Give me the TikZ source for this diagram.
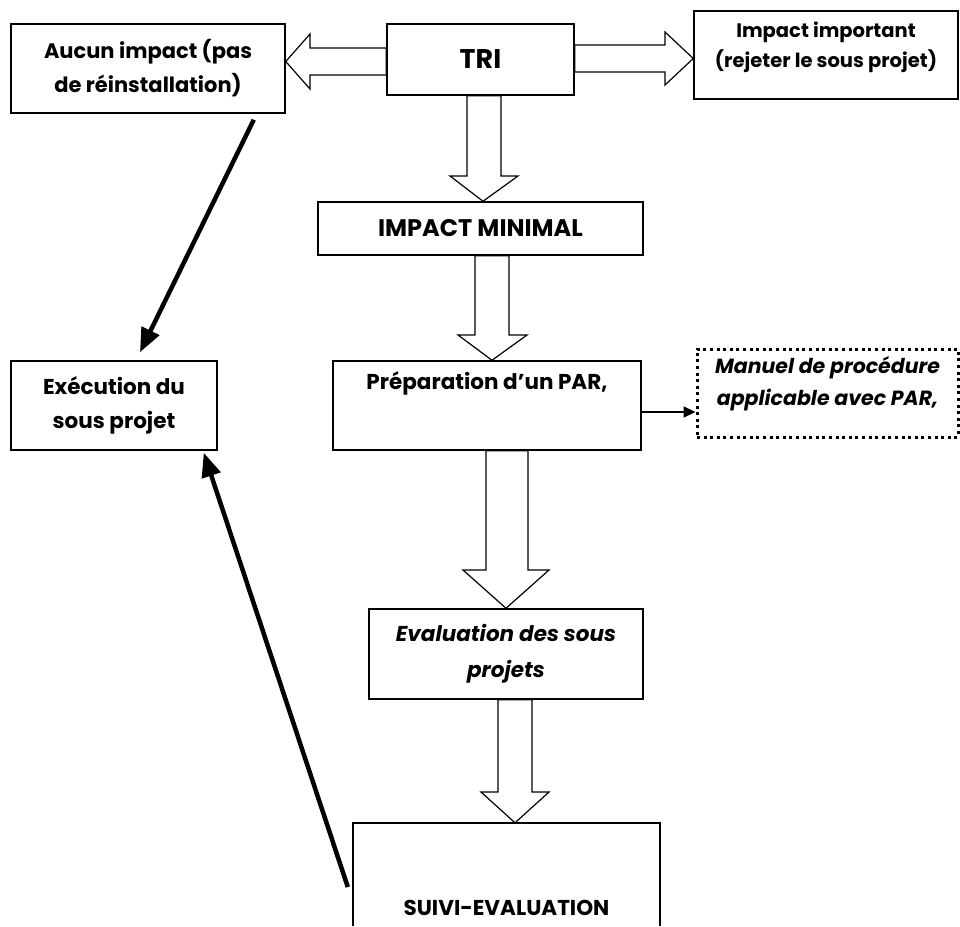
\documentclass[tikz,border=0pt]{standalone}
\usepackage{fontspec}
\setmainfont{Poppins}
\usetikzlibrary{arrows.meta}

\begin{document}
\begin{tikzpicture}
[
x=1pt, y=-1pt,
bnode/.style={draw, line width=1.5pt, inner sep=0, align=center,
  font=\bfseries\fontsize{21.5}{34}\selectfont},
bignode/.style={bnode, font=\bfseries\fontsize{24}{28}\selectfont},
dotnode/.style={draw, line width=3pt, dash pattern=on 3pt off 3.6pt, inner sep=0},
hollow/.style={draw, line width=1.2pt, fill=white, line join=miter},
fatarrow/.style={line width=4.5pt, -{Triangle[length=24pt,width=19pt]}},
thinarrow/.style={line width=2pt, -{Triangle[length=12pt,width=11pt]}}
]
\useasboundingbox (0,0) rectangle (960,926);

\node[bnode, minimum width=274, minimum height=89, font=\bfseries\fontsize{21}{34}\selectfont] (aucun) at (148,68.5) {Aucun impact (pas\\de réinstallation)};
\node[bignode, minimum width=187, minimum height=71, font=\bfseries\fontsize{27}{30}\selectfont] (tri) at (480.5,59.5) {TRI};
\node[bnode, minimum width=264, minimum height=88,
  label={[align=center, font=\bfseries\fontsize{19.5}{30}\selectfont, yshift=8pt]center:Impact important\\(rejeter le sous projet)}] (important) at (826,55) {};
\node[bignode, minimum width=325, minimum height=53] (imp) at (480.5,228.5) {IMPACT MINIMAL};
\node[bnode, minimum width=308, minimum height=89,
  label={[font=\bfseries\fontsize{21.5}{34}\selectfont, yshift=22.5pt]center:Préparation d’un PAR,}] (prep) at (487,405.5) {};
\node[dotnode, minimum width=261, minimum height=88,
  label={[align=center, font=\bfseries\itshape\fontsize{20.5}{32}\selectfont, yshift=9pt]center:Manuel de procédure\\applicable avec PAR,}] (manuel) at (827.5,393) {};
\node[bnode, minimum width=206, minimum height=89] (exec) at (114,405.5) {Exécution du\\sous projet};
\node[bnode, minimum width=274, minimum height=90, font=\bfseries\itshape\fontsize{21.5}{36}\selectfont] (eval) at (506,654) {Evaluation des sous\\projets};
\node[inner sep=0, minimum width=307, minimum height=103,
  label={[font=\bfseries\fontsize{21.5}{34}\selectfont, yshift=-33.5pt]center:SUIVI-EVALUATION}] (suivi) at (506.5,874.5) {};
\draw[line width=1.5pt] (suivi.south west) |- (suivi.north east) -- (suivi.south east);

% block arrows
\draw[hollow] (tri.west |- 0,48) -- (310,48) -- (310,34) -- (aucun.east |- 0,61.5) -- (310,89) -- (310,75) -- (tri.west |- 0,75) -- cycle;
\draw[hollow] (tri.east |- 0,45) -- (665,45) -- (665,32) -- (important.west |- 0,58.5) -- (665,85) -- (665,72) -- (tri.east |- 0,72) -- cycle;
\draw[hollow] (tri.south -| 467,0) -- (467,176) -- (450,176) -- (imp.north -| 483,0) -- (518,176) -- (501,176) -- (tri.south -| 501,0) -- cycle;
\draw[hollow] (imp.south -| 475,0) -- (475,335) -- (458,335) -- (prep.north -| 492,0) -- (527,335) -- (509,335) -- (imp.south -| 509,0) -- cycle;
\draw[hollow] (prep.south -| 486,0) -- (486,570) -- (463,570) -- (eval.north -| 506,0) -- (549,570) -- (528,570) -- (prep.south -| 528,0) -- cycle;
\draw[hollow] (eval.south -| 498,0) -- (498,792) -- (481,792) -- (suivi.north -| 515,0) -- (549,792) -- (532,792) -- (eval.south -| 532,0) -- cycle;

% line arrows
\draw[thinarrow] ([yshift=-6.5pt]prep.east) -- ([yshift=-6.5pt]prep.east -| manuel.west);
\draw[fatarrow] ([shift={(-32,6)}]aucun.south east) -- ([shift={(26,-8)}]exec.north);
\draw[fatarrow] ([shift={(-5,12.5)}]suivi.west) -- ([shift={(-14,2)}]exec.south east);
\end{tikzpicture}
\end{document}
